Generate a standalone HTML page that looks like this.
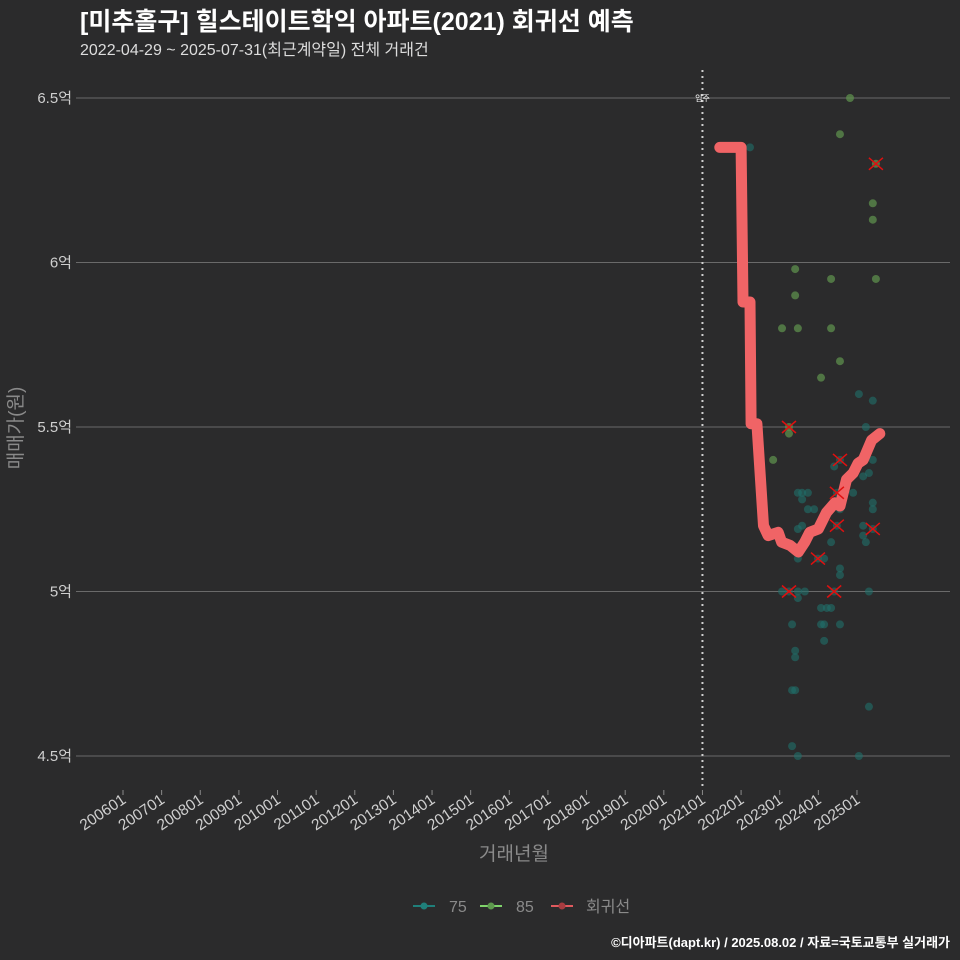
<!DOCTYPE html>
<html><head><meta charset="utf-8"><style>
html,body{margin:0;padding:0;background:#2b2b2c;}
svg{display:block;font-family:"Liberation Sans","Noto Sans CJK KR",sans-serif;}
</style></head><body>
<svg id="chart" width="960" height="960" viewBox="0 0 960 960">
<rect width="960" height="960" fill="#2b2b2c"/>
<text x="80" y="30" fill="#ffffff" font-size="25" font-weight="bold">[미추홀구] 힐스테이트학익 아파트(2021) 회귀선 예측</text>
<text x="80" y="55" fill="#dddddd" font-size="16">2022-04-29 ~ 2025-07-31(최근계약일) 전체 거래건</text>
<text transform="translate(22,428) rotate(-90)" text-anchor="middle" fill="#8a8a8a" font-size="19">매매가(원)</text>
<text x="514" y="860" text-anchor="middle" fill="#8a8a8a" font-size="19">거래년월</text>
<g id="grid"></g><g id="pts"></g><g id="line"></g><g id="marks"></g>
<g>
<g><line x1="413" y1="906" x2="435" y2="906" stroke="#1f7f7a" stroke-width="2"/><circle cx="424" cy="906" r="3.5" fill="#1f7f7a"/><text x="449" y="912" fill="#8a8a8a" font-size="16">75</text></g>
<g><line x1="480" y1="906" x2="502" y2="906" stroke="#7fd36b" stroke-width="2"/><circle cx="491" cy="906" r="3.5" fill="#5e9a4e"/><text x="516" y="912" fill="#8a8a8a" font-size="16">85</text></g>
<g><line x1="551" y1="906" x2="573" y2="906" stroke="#e05a5e" stroke-width="2"/><circle cx="562" cy="906" r="3.5" fill="#a83c40"/><text x="586" y="912" fill="#8a8a8a" font-size="16">회귀선</text></g>
</g>
<text x="950" y="947" text-anchor="end" fill="#ffffff" font-size="13" font-weight="bold">©디아파트(dapt.kr) / 2025.08.02 / 자료=국토교통부 실거래가</text>
</svg>
<script>
const yTicks=[4.5,5,5.5,6,6.5];
const yTickLabels=["4.5억","5억","5.5억","6억","6.5억"];
const xTickYears=[2006,2007,2008,2009,2010,2011,2012,2013,2014,2015,2016,2017,2018,2019,2020,2021,2022,2023,2024,2025];
const xTickLabels=["200601","200701","200801","200901","201001","201101","201201","201301","201401","201501","201601","201701","201801","201901","202001","202101","202201","202301","202401","202501"];
const moveInYear=2021.0;
const s85T=[2024.82,2024.56,2025.49,2025.41,2025.41,2023.40,2024.33,2025.49,2023.40,2023.06,2023.47,2024.33,2024.56,2024.07,2023.24,2023.24,2022.83];
const s85P=[6.5,6.39,6.30,6.18,6.13,5.98,5.95,5.95,5.90,5.80,5.80,5.80,5.70,5.65,5.50,5.48,5.40];
const s75T=[2022.23,2025.05,2025.41,2025.23,2025.41,2024.56,2024.41,2025.31,2025.16,2024.90,2024.48,2023.47,2023.58,2023.73,2023.58,2025.41,2025.41,2023.73,2023.89,2024.56,2023.58,2023.47,2024.48,2025.16,2025.41,2025.16,2025.23,2024.33,2023.47,2023.99,2024.15,2024.56,2024.56,2023.24,2023.06,2023.47,2023.65,2023.47,2024.41,2025.31,2024.07,2024.22,2024.33,2023.32,2024.07,2024.15,2024.56,2024.15,2023.40,2023.40,2023.32,2023.40,2025.31,2023.32,2023.47,2025.05];
const s75P=[6.35,5.60,5.58,5.50,5.40,5.40,5.38,5.36,5.35,5.30,5.30,5.30,5.30,5.30,5.28,5.27,5.25,5.25,5.25,5.25,5.20,5.19,5.20,5.20,5.19,5.17,5.15,5.15,5.10,5.10,5.10,5.07,5.05,5.00,5.00,5.00,5.00,4.98,5.00,5.00,4.95,4.95,4.95,4.90,4.90,4.90,4.90,4.85,4.82,4.80,4.70,4.70,4.65,4.53,4.50,4.50];
const regT=[2021.45,2022.0,2022.05,2022.23,2022.26,2022.41,2022.58,2022.7,2022.96,2023.05,2023.27,2023.48,2023.65,2023.78,2024.0,2024.21,2024.43,2024.56,2024.73,2024.9,2025.03,2025.16,2025.38,2025.59];
const regP=[6.35,6.35,5.88,5.88,5.51,5.51,5.20,5.17,5.18,5.15,5.14,5.12,5.15,5.18,5.19,5.24,5.27,5.26,5.34,5.36,5.39,5.40,5.46,5.48];
const outT=[2025.49,2023.24,2024.56,2024.48,2024.48,2025.41,2023.99,2024.41,2023.24];
const outP=[6.30,5.50,5.40,5.30,5.20,5.19,5.10,5.00,5.00];

const NS="http://www.w3.org/2000/svg";
const X=t=>123+(t-2006)*38.63;
const Y=p=>98+(6.5-p)*329;
function mk(tag,attrs,parent){const e=document.createElementNS(NS,tag);for(const k in attrs)e.setAttribute(k,attrs[k]);parent.appendChild(e);return e;}
const grid=document.getElementById('grid');
yTicks.forEach((v,i)=>{
  const l=mk('line',{x1:76,x2:950,y1:Y(v),y2:Y(v),stroke:'#6a6a6a','stroke-width':1},grid);
  
  
  const t=mk('text',{x:72,y:Y(v)+5,'text-anchor':'end',fill:'#cfcfcf','font-size':15},grid);
  t.textContent=yTickLabels[i];
  
  
});
xTickYears.forEach((v,i)=>{
  const x=X(v);
  const l=mk('line',{x1:x,x2:x,y1:790,y2:795,stroke:'#8a8a8a','stroke-width':1},grid);
  
  
  const t=mk('text',{transform:`translate(${x+4},802) rotate(-34)`,'text-anchor':'end',fill:'#cfcfcf','font-size':15.5},grid);
  t.textContent=xTickLabels[i];
  
  
});
const ml=mk('line',{x1:X(moveInYear),x2:X(moveInYear),y1:70,y2:790,stroke:'#d0d0d0','stroke-width':2,'stroke-dasharray':'2,4'},grid);


const mt=mk('text',{x:X(moveInYear),y:101,'text-anchor':'middle',fill:'#ffffff','font-size':8},grid);
mt.textContent='입주';


const pts=document.getElementById('pts');
s75T.forEach((t,i)=>{
  const c=mk('circle',{cx:X(t),cy:Y(s75P[i]),r:4,fill:'#1f6f6a','fill-opacity':0.6},pts);
  
  
});
s85T.forEach((t,i)=>{
  const c=mk('circle',{cx:X(t),cy:Y(s85P[i]),r:4,fill:'#5e8f4c','fill-opacity':0.75},pts);
  
  
});
const lg=document.getElementById('line');
const d=regT.map((t,i)=>(i?'L':'M')+X(t).toFixed(1)+','+Y(regP[i]).toFixed(1)).join(' ');
const rp=mk('path',{d:d,fill:'none',stroke:'#f06466','stroke-width':11,'stroke-linecap':'round','stroke-linejoin':'round'},lg);


const mg=document.getElementById('marks');
outT.forEach((t,i)=>{
  const x=X(t),y=Y(outP[i]);
  const p=mk('path',{d:`M${x-7},${y-6}L${x+7},${y+6}M${x-7},${y+6}L${x+7},${y-6}`,stroke:'#e01010','stroke-width':1.5},mg);
  
  
});
</script>
</body></html>
